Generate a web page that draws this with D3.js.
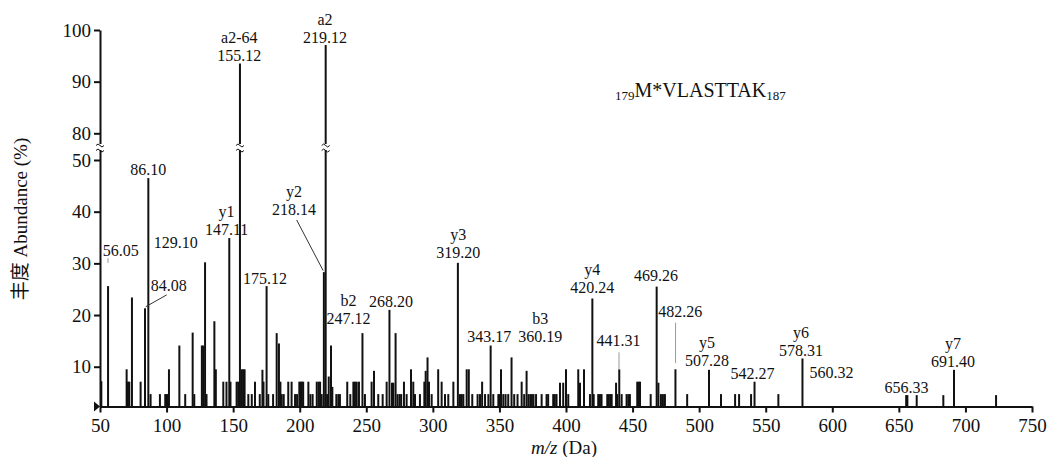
<!DOCTYPE html>
<html>
<head>
<meta charset="utf-8">
<script src="https://cdn.jsdelivr.net/npm/d3@7"></script>
<style>
  body { margin: 0; background: #fff; }
  text { font-family: "Liberation Serif", "Times New Roman", serif; fill: #111; }
</style>
</head>
<body>
<div id="chart"></div>
<script>
// peaks: [m/z, abundance %]
var peakMz = [51, 56.05, 70, 71, 72, 74, 80.5, 83.8, 86.3, 88, 95, 99, 100, 101, 101.8, 109.6, 114, 119.6, 120.8,
  126.5, 127.5, 128.9, 130, 135.9, 137, 142.6, 145, 147.1, 148, 152.6, 153.8, 155.12, 156.4, 157.5, 158.6, 161.4, 164,
  166.4, 170, 172, 172.8, 175.12, 176.4, 180, 182.7, 184.4, 185.5, 186.5, 188, 191.4, 193.9, 196.5, 198, 199.7, 200.8,
  201.6, 202.6, 206.5, 208, 209.7, 212.8, 214.2, 215.3, 216.5, 218.14, 219.5, 220.6, 221.8, 223.5, 224.5, 227.5, 229,
  230.2, 235.7, 238, 240.3, 241.5, 242.8, 244.5, 247.12, 249, 254, 255.8, 259, 262.3, 265.3, 267.4, 269.3, 270.3, 272,
  273.5, 275, 276.2, 278.3, 280.3, 283.6, 285.3, 286.6, 290.3, 293.6, 294.6, 296, 297.1, 299.1, 304, 306.6, 309.1,
  311.6, 315.4, 318.8, 320.4, 321.7, 322.9, 325.4, 327, 329.6, 333.6, 335.4, 337, 339.2, 341.7, 343.4, 345.4, 349.2,
  350.4, 351.2, 352.9, 354.6, 356.6, 359.1, 361.1, 363.6, 366.7, 368.6, 370.4, 371.8, 373.2, 374.4, 375.6, 377.5,
  381.7, 385.4, 386.6, 390.4, 391.6, 392.9, 395.5, 397.9, 400, 401.7, 409.2, 410.5, 413.5, 418, 419.8, 420.8, 424.2,
  425.5, 426.7, 431, 432.2, 433.4, 434.3, 437.6, 438.5, 440, 441.8, 445.5, 446.8, 448, 453.5, 454.6, 455.6, 463.6,
  468.1, 469.4, 471.3, 472.8, 474.3, 482.2, 491, 507.4, 516.4, 527, 530, 539, 541.6, 559.5, 577.6, 655.5, 656.4,
  663.4, 683.4, 691.4, 723];
var peakAbund = [7.2, 25.6, 9.5, 7.1, 7.1, 23.4, 7.1, 21.3, 46.5, 4.7, 4.7, 4.7, 4.7, 4.7, 9.5, 14.1, 4.7, 16.6, 4.7,
  14.1, 14.1, 30.2, 4.7, 18.8, 9.5, 7.1, 7.1, 34.9, 7.1, 7.1, 7.1, 93.5, 9.5, 9.5, 9.5, 4.7, 4.7,
  7.1, 4.7, 9.4, 7.1, 25.6, 4.7, 4.7, 16.5, 14.5, 7.1, 4.7, 4.7, 7.1, 7.1, 4.7, 4.7, 7.1, 7.1,
  7.1, 7.1, 7.1, 4.7, 4.7, 7.1, 7.1, 7.1, 4.7, 28.3, 97.1, 4.7, 8.1, 14.1, 6.1, 4.7, 4.7,
  4.7, 7.1, 4.7, 7.1, 7.1, 7.1, 7.1, 16.5, 4.7, 7.1, 9.2, 4.7, 4.7, 7.1, 21, 6.9, 6.9, 16.5,
  4.7, 4.7, 4.7, 7.1, 4.7, 9.5, 7.1, 4.7, 4.7, 7.1, 9.2, 11.8, 7.1, 4.7, 9.5, 7.1, 4.7,
  4.7, 7.1, 30.1, 4.7, 4.7, 4.7, 9.5, 9.5, 4.7, 4.7, 4.7, 7.1, 4.7, 4.7, 14.1, 4.7, 4.7,
  4.7, 9.5, 4.7, 4.7, 4.7, 11.8, 4.7, 4.7, 7.1, 4.7, 9.2, 4.7, 4.7, 4.7, 4.7, 4.7,
  4.7, 4.7, 4.7, 4.7, 4.7, 4.7, 6.9, 6.9, 9.5, 4.7, 9.5, 6.9, 9.5, 4.7, 23.2, 4.7, 4.7,
  4.7, 4.7, 4.7, 4.7, 4.7, 4.7, 6.9, 4.7, 9.5, 4.7, 4.7, 4.7, 4.7, 7.1, 7.1, 7.1, 4.7,
  25.5, 6.9, 4.7, 4.7, 4.7, 9.5, 4.7, 9.4, 4.7, 4.7, 4.7, 4.7, 7.1, 4.7, 11.6, 4.5, 4.5,
  4.5, 4.5, 9.4, 4.5];

// annotations: ion name, m/z text, anchor m/z, anchor abundance (baseline of the number)
var labelIon = ["a2-64", "a2", "", "", "", "", "y1", "y2", "", "b2", "", "y3", "", "b3", "y4", "", "", "", "y5", "", "y6", "", "", "y7"];
var labelText = ["155.12", "219.12", "86.10", "56.05", "129.10", "84.08", "147.11", "218.14", "175.12", "247.12", "268.20",
  "319.20", "343.17", "360.19", "420.24", "469.26", "482.26", "441.31", "507.28", "542.27", "578.31", "560.32", "656.33", "691.40"];
var labelMz = [154.6, 219.0, 86.3, 65.5, 106.8, 101.6, 145.1, 195.7, 173.9, 236.6, 268.6, 319.0, 342.4, 380.6, 419.7,
  467.6, 485.8, 439.5, 505.9, 540.0, 576.5, 599.5, 655.8, 690.6];
var labelAbund = [94.0, 97.4, 47.1, 31.4, 32.9, 24.6, 35.5, 39.4, 26.1, 18.3, 21.5, 31.0, 14.7, 14.7, 24.2, 26.6, 19.6,
  14.1, 10.1, 7.6, 12.1, 7.9, 5.0, 10.0];

// leader lines: [mz1, v1, mz2, v2, gray?]
var leaders = [[100.1, 23.9, 84.3, 21.6, 0], [197.7, 38.4, 217.6, 28.6, 0], [56.0, 31.0, 56.0, 30.1, 1],
  [439.8, 12.8, 439.8, 9.4, 1], [482.3, 18.5, 482.3, 10.7, 1]];

var xTicks = d3.range(50, 751, 50);
var yTicks = [10, 20, 30, 40, 50, 80, 90, 100];

var width = 1049, height = 457;
var svg = d3.select("#chart").append("svg")
  .attr("width", width).attr("height", height);

var x = d3.scaleLinear().domain([50, 750]).range([100, 1032]);
// broken y axis: 50 -> 80 is skipped
var y = d3.scaleLinear().domain([2.3, 50, 80, 100]).range([406.5, 160, 133.3, 30]);

// peaks
svg.append("g").selectAll("line")
  .data(peakMz.map(function(m, i) { return [m, peakAbund[i]]; }))
  .enter().append("line")
  .attr("x1", function(d) { return x(d[0]); })
  .attr("x2", function(d) { return x(d[0]); })
  .attr("y1", y(2.3))
  .attr("y2", function(d) { return y(d[1]); })
  .attr("stroke", "#111")
  .attr("stroke-width", 2);

// axes
var xAxis = svg.append("g")
  .attr("transform", "translate(0," + y(2.3) + ")")
  .call(d3.axisBottom(x).tickValues(xTicks).tickSize(6).tickPadding(6).tickSizeOuter(0));
var yAxis = svg.append("g")
  .attr("transform", "translate(" + x(50) + ",0)")
  .call(d3.axisLeft(y).tickValues(yTicks).tickSize(6).tickPadding(3).tickSizeOuter(0));
[xAxis, yAxis].forEach(function(a) {
  a.selectAll("path, line").attr("stroke", "#111").attr("stroke-width", 2);
  a.selectAll("text").style("font-size", "19px").style("font-family", "Liberation Serif").attr("fill", "#111");
});

// break marks on the axis and the two tall peaks
function breakMark(cx) {
  var cy = 147;
  svg.append("rect").attr("x", cx - 5).attr("y", cy - 3).attr("width", 10).attr("height", 6).attr("fill", "#fff");
  [-2.5, 2.5].forEach(function(o) {
    svg.append("path")
      .attr("d", "M" + (cx - 4) + "," + (cy + o + 1) + " q2,-3 4,0 t4,0")
      .attr("fill", "none").attr("stroke", "#111").attr("stroke-width", 1);
  });
}
breakMark(x(50));
breakMark(x(155.12));
breakMark(x(219.5));

// small arrow at origin
svg.append("path")
  .attr("d", "M" + (x(50) - 6) + "," + (y(2.3) - 5) + " L" + (x(50)) + "," + y(2.3) + " L" + (x(50) - 6) + "," + (y(2.3) + 5) + "Z")
  .attr("fill", "#111");

// leader lines
svg.append("g").selectAll("line")
  .data(leaders).enter().append("line")
  .attr("x1", function(d) { return x(d[0]); })
  .attr("y1", function(d) { return y(d[1]); })
  .attr("x2", function(d) { return x(d[2]); })
  .attr("y2", function(d) { return y(d[3]); })
  .attr("stroke", function(d) { return d[4] ? "#999" : "#333"; })
  .attr("stroke-width", 1);

// peak labels
var lab = svg.append("g").selectAll("g")
  .data(labelText.map(function(t, i) { return { ion: labelIon[i], t: t, mz: labelMz[i], v: labelAbund[i] }; }))
  .enter().append("g")
  .attr("transform", function(d) { return "translate(" + x(d.mz) + "," + y(d.v) + ")"; });
lab.append("text").attr("text-anchor", "middle").style("font-size", "16px").text(function(d) { return d.t; });
lab.append("text").attr("text-anchor", "middle").attr("y", -18).style("font-size", "16px").text(function(d) { return d.ion; });

// peptide
var pep = svg.append("text").attr("x", 615).attr("y", 97).style("font-size", "20px");
pep.append("tspan").style("font-size", "13px").attr("dy", 3).text("179");
pep.append("tspan").attr("dy", -3).text("M*VLASTTAK");
pep.append("tspan").style("font-size", "13px").attr("dy", 3).text("187");

// axis titles
svg.append("text")
  .attr("transform", "translate(27,219) rotate(-90)")
  .attr("text-anchor", "middle")
  .style("font-size", "19px")
  .style("font-family", "'Liberation Serif', 'Noto Sans CJK SC', serif")
  .text("丰度 Abundance (%)");

var xt = svg.append("text").attr("x", 564).attr("y", 454).attr("text-anchor", "middle").style("font-size", "19px");
xt.append("tspan").style("font-style", "italic").text("m/z");
xt.append("tspan").text(" (Da)");
</script>
</body>
</html>
